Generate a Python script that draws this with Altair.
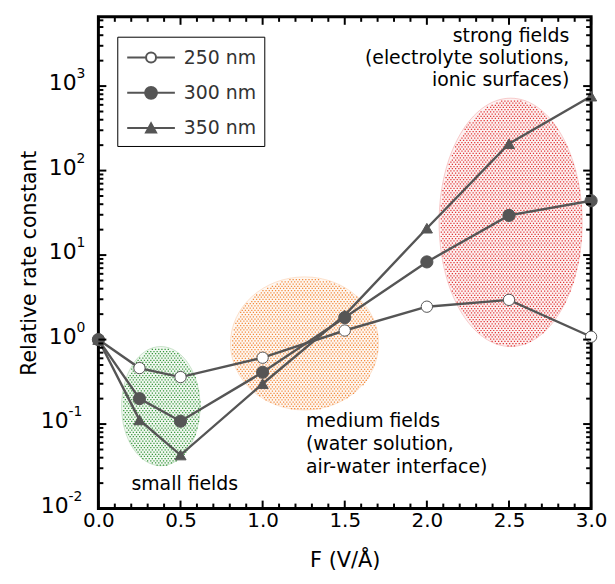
import altair as alt
import pandas as pd

# ---------------- data ----------------
F = [0.0, 0.25, 0.5, 1.0, 1.5, 2.0, 2.5, 3.0]
k250 = [1.0, 0.46, 0.36, 0.61, 1.28, 2.45, 2.95, 1.08]
k300 = [1.0, 0.20, 0.108, 0.41, 1.82, 8.3, 29.5, 44.0]
k350 = [1.0, 0.112, 0.043, 0.30, 1.95, 20.8, 208.0, 760.0]
series = ["250 nm", "300 nm", "350 nm"]

x_major = [0.0, 0.5, 1.0, 1.5, 2.0, 2.5, 3.0]
x_minor = [round(i * 0.1, 1) for i in range(31) if i % 5 != 0]
y_major = [0.01, 0.1, 1.0, 10.0, 100.0, 1000.0]
y_exp = ["-2", "-1", "0", "1", "2", "3"]
y_minor = [m * d for d in y_major for m in range(2, 10) if m * d < 6600]

small_txt = ["small fields"]
small_x = [0.526]
small_y = [0.0197]
medium_txt = ["medium fields", "(water solution,", "air-water interface)"]
medium_x = [1.264, 1.264, 1.264]
medium_y = [0.108, 0.0582, 0.0312]
strong_txt = ["strong fields", "(electrolyte solutions,", "ionic surfaces)"]
strong_x = [2.867, 2.867, 2.867]
strong_y = [3873.0, 2134.0, 1176.0]

ell_name = ["small", "medium", "strong"]
ell_x = [0.38, 1.255, 2.51]
ell_y = [0.163, 0.90, 24.4]

# ---------------- styles ----------------
W, H = 496, 495
FONT = "DejaVu Sans"
GRAY = "#555555"
ELL_STYLE = {
    "small": dict(rx=39.5, ry=60, color="#36963a"),
    "medium": dict(rx=74.5, ry=67, color="#f28a3c"),
    "strong": dict(rx=72, ry=125, color="#e03434"),
}

rows = []
for s, ks in zip(series, [k250, k300, k350]):
    for f, k in zip(F, ks):
        rows.append({"series": s, "F": f, "k": k})
df = pd.DataFrame(rows)

xs = alt.Scale(domain=[0, 3], nice=False, zero=False)
ys = alt.Scale(type="log", domain=[0.01, 6600], nice=False)

X = alt.X("F:Q", scale=xs,
          axis=alt.Axis(title="F (V/Å)", values=x_major, format=".1f", ticks=False,
                        domain=False, grid=False, labelFlush=False, labelFontSize=20,
                        labelFont=FONT, labelPadding=2, labelColor="black",
                        titleFont=FONT, titleFontSize=21, titleFontWeight="normal",
                        titlePadding=19, titleColor="black"))
Y = alt.Y("k:Q", scale=ys,
          axis=alt.Axis(title="Relative rate constant", labels=False, ticks=False,
                        domain=False, grid=False, titleFont=FONT, titleFontSize=20.5,
                        titleFontWeight="normal", titlePadding=59, titleColor="black"))


def ellipse_paths(rx, ry, step_x=3.2, step_y=2.2, dot=1.25):
    """outline path and a stipple (dot grid) path, in symbol units"""
    S = max(rx, ry)
    a, b = rx / S, ry / S
    outer = f"M{-a:.4f},0A{a:.4f},{b:.4f} 0 1,0 {a:.4f},0A{a:.4f},{b:.4f} 0 1,0 {-a:.4f},0Z"
    parts = []
    j = 0
    yy = -ry
    while yy <= ry:
        off = (step_x / 2) if j % 2 else 0.0
        xx = -rx + off
        while xx <= rx:
            if (xx / rx) ** 2 + (yy / ry) ** 2 <= 0.985:
                parts.append(f"M{xx / S:.3f},{yy / S:.3f}h{dot / S:.3f}v{dot / S:.3f}h{-dot / S:.3f}z")
            xx += step_x
        yy += step_y
        j += 1
    return outer, "".join(parts), (2 * S) ** 2


layers = []
edf = pd.DataFrame({"name": ell_name, "F": ell_x, "k": ell_y})
for name in ell_name:
    st = ELL_STYLE[name]
    outer, dots, size = ellipse_paths(st["rx"], st["ry"])
    base = alt.Chart(edf).transform_filter(alt.datum.name == name)
    layers.append(base.mark_point(shape=outer, size=size, filled=True, fill=st["color"],
                                  fillOpacity=0.07, stroke=st["color"], strokeOpacity=0.35,
                                  strokeWidth=0.7, opacity=1).encode(
        x=alt.X("F:Q", scale=xs), y=alt.Y("k:Q", scale=ys)))
    layers.append(base.mark_point(shape=dots, size=size, filled=True, fill=st["color"],
                                  strokeWidth=0, opacity=1).encode(
        x=alt.X("F:Q", scale=xs), y=alt.Y("k:Q", scale=ys)))

lines = alt.Chart(df).mark_line(color=GRAY, strokeWidth=2.4).encode(
    x=X, y=Y, detail="series:N", order="F:Q")
layers.append(lines)

# data markers: drawn per series (250, 350, then 300 on top)
marker_style = {
    "250 nm": dict(shape="circle", size=130, fill="white", stroke=GRAY, strokeWidth=1),
    "350 nm": dict(shape="triangle-up", size=125, fill=GRAY, stroke=GRAY, strokeWidth=1),
    "300 nm": dict(shape="circle", size=150, fill=GRAY, stroke=GRAY, strokeWidth=1),
}
for s in ["250 nm", "350 nm", "300 nm"]:
    layers.append(alt.Chart(df).transform_filter(alt.datum.series == s).mark_point(
        filled=True, opacity=1, fillOpacity=1, **marker_style[s]).encode(
        x=alt.X("F:Q", scale=xs), y=alt.Y("k:Q", scale=ys)))

# legend layer (invisible marks, visible legend)
leg_paths = [
    "M-2,0L-0.42,0M0.42,0L2,0M-0.42,0A0.42,0.42 0 1,0 0.42,0A0.42,0.42 0 1,0 -0.42,0Z",
    "M-2,0L2,0M-0.5,0A0.5,0.5 0 1,0 0.5,0A0.5,0.5 0 1,0 -0.5,0Z",
    "M-2,0L2,0M-0.42,0.36L0,-0.4L0.42,0.36Z",
]
leg = alt.Legend(title=None, orient="none", legendX=19, legendY=20, symbolSize=576,
                 symbolStrokeWidth=2, symbolStrokeColor=GRAY, symbolOpacity=1,
                 symbolOffset=13, labelOffset=20, labelFont=FONT, labelFontSize=19,
                 labelColor="#333333", padding=8, rowPadding=12.5, strokeColor="black",
                 labelExpr="datum.label + '\u2002'")
legend_layer = alt.Chart(df).mark_point(opacity=0, strokeWidth=2).encode(
    x=alt.X("F:Q", scale=xs), y=alt.Y("k:Q", scale=ys),
    shape=alt.Shape("series:N", scale=alt.Scale(domain=series, range=leg_paths), legend=leg),
    fill=alt.Fill("series:N", scale=alt.Scale(domain=series, range=["white", GRAY, GRAY]), legend=leg),
    stroke=alt.Stroke("series:N", scale=alt.Scale(domain=series, range=[GRAY, GRAY, GRAY]), legend=leg),
)
layers.append(legend_layer)

# ticks (inside the frame)
xmaj = pd.DataFrame({"F": x_major})
xmin = pd.DataFrame({"F": x_minor})
ymaj = pd.DataFrame({"k": y_major})
ymin = pd.DataFrame({"k": y_minor})
for d, L in [(xmaj, 8), (xmin, 5)]:
    layers.append(alt.Chart(d).mark_rule(color="black", strokeWidth=2).encode(
        x=alt.X("F:Q", scale=xs), y=alt.value(H), y2=alt.value(H - L)))
    layers.append(alt.Chart(d).mark_rule(color="black", strokeWidth=2).encode(
        x=alt.X("F:Q", scale=xs), y=alt.value(0), y2=alt.value(L)))
for d, L in [(ymaj, 8), (ymin, 5)]:
    layers.append(alt.Chart(d).mark_rule(color="black", strokeWidth=2).encode(
        y=alt.Y("k:Q", scale=ys), x=alt.value(0), x2=alt.value(L)))
    layers.append(alt.Chart(d).mark_rule(color="black", strokeWidth=2).encode(
        y=alt.Y("k:Q", scale=ys), x=alt.value(W), x2=alt.value(W - L)))

# y tick labels 10^n
ylab = pd.DataFrame({"k": y_major, "e": y_exp})
pos = alt.Chart(ylab).transform_filter(alt.datum.k >= 1)
neg = alt.Chart(ylab).transform_filter(alt.datum.k < 1)
for base, xo in [(pos, -22), (neg, -30)]:
    layers.append(base.mark_text(text="10", font=FONT, fontSize=22, align="right",
                                 baseline="middle", dy=-3, color="black").encode(
        y=alt.Y("k:Q", scale=ys), x=alt.value(xo)))
    layers.append(base.mark_text(font=FONT, fontSize=14, align="left",
                                 baseline="middle", dy=-12, color="black").encode(
        y=alt.Y("k:Q", scale=ys), x=alt.value(xo), text="e:N"))

# annotations
for txt, xv, yv, al in [(small_txt, small_x, small_y, "center"),
                        (medium_txt, medium_x, medium_y, "left"),
                        (strong_txt, strong_x, strong_y, "right")]:
    d = pd.DataFrame({"t": txt, "F": xv, "k": yv})
    layers.append(alt.Chart(d).mark_text(font=FONT, fontSize=19, align=al, baseline="middle",
                                         color="black").encode(
        x=alt.X("F:Q", scale=xs), y=alt.Y("k:Q", scale=ys), text="t:N"))

chart = alt.layer(*layers).properties(
    width=W, height=H,
    autosize=alt.AutoSizeParams(type="none"),
    padding={"left": 91, "top": 7, "right": 16, "bottom": 68},
).configure_view(stroke="black", strokeWidth=3).configure_axis(grid=False)

chart.save("out.html", embed_options={"renderer": "svg", "actions": False})
